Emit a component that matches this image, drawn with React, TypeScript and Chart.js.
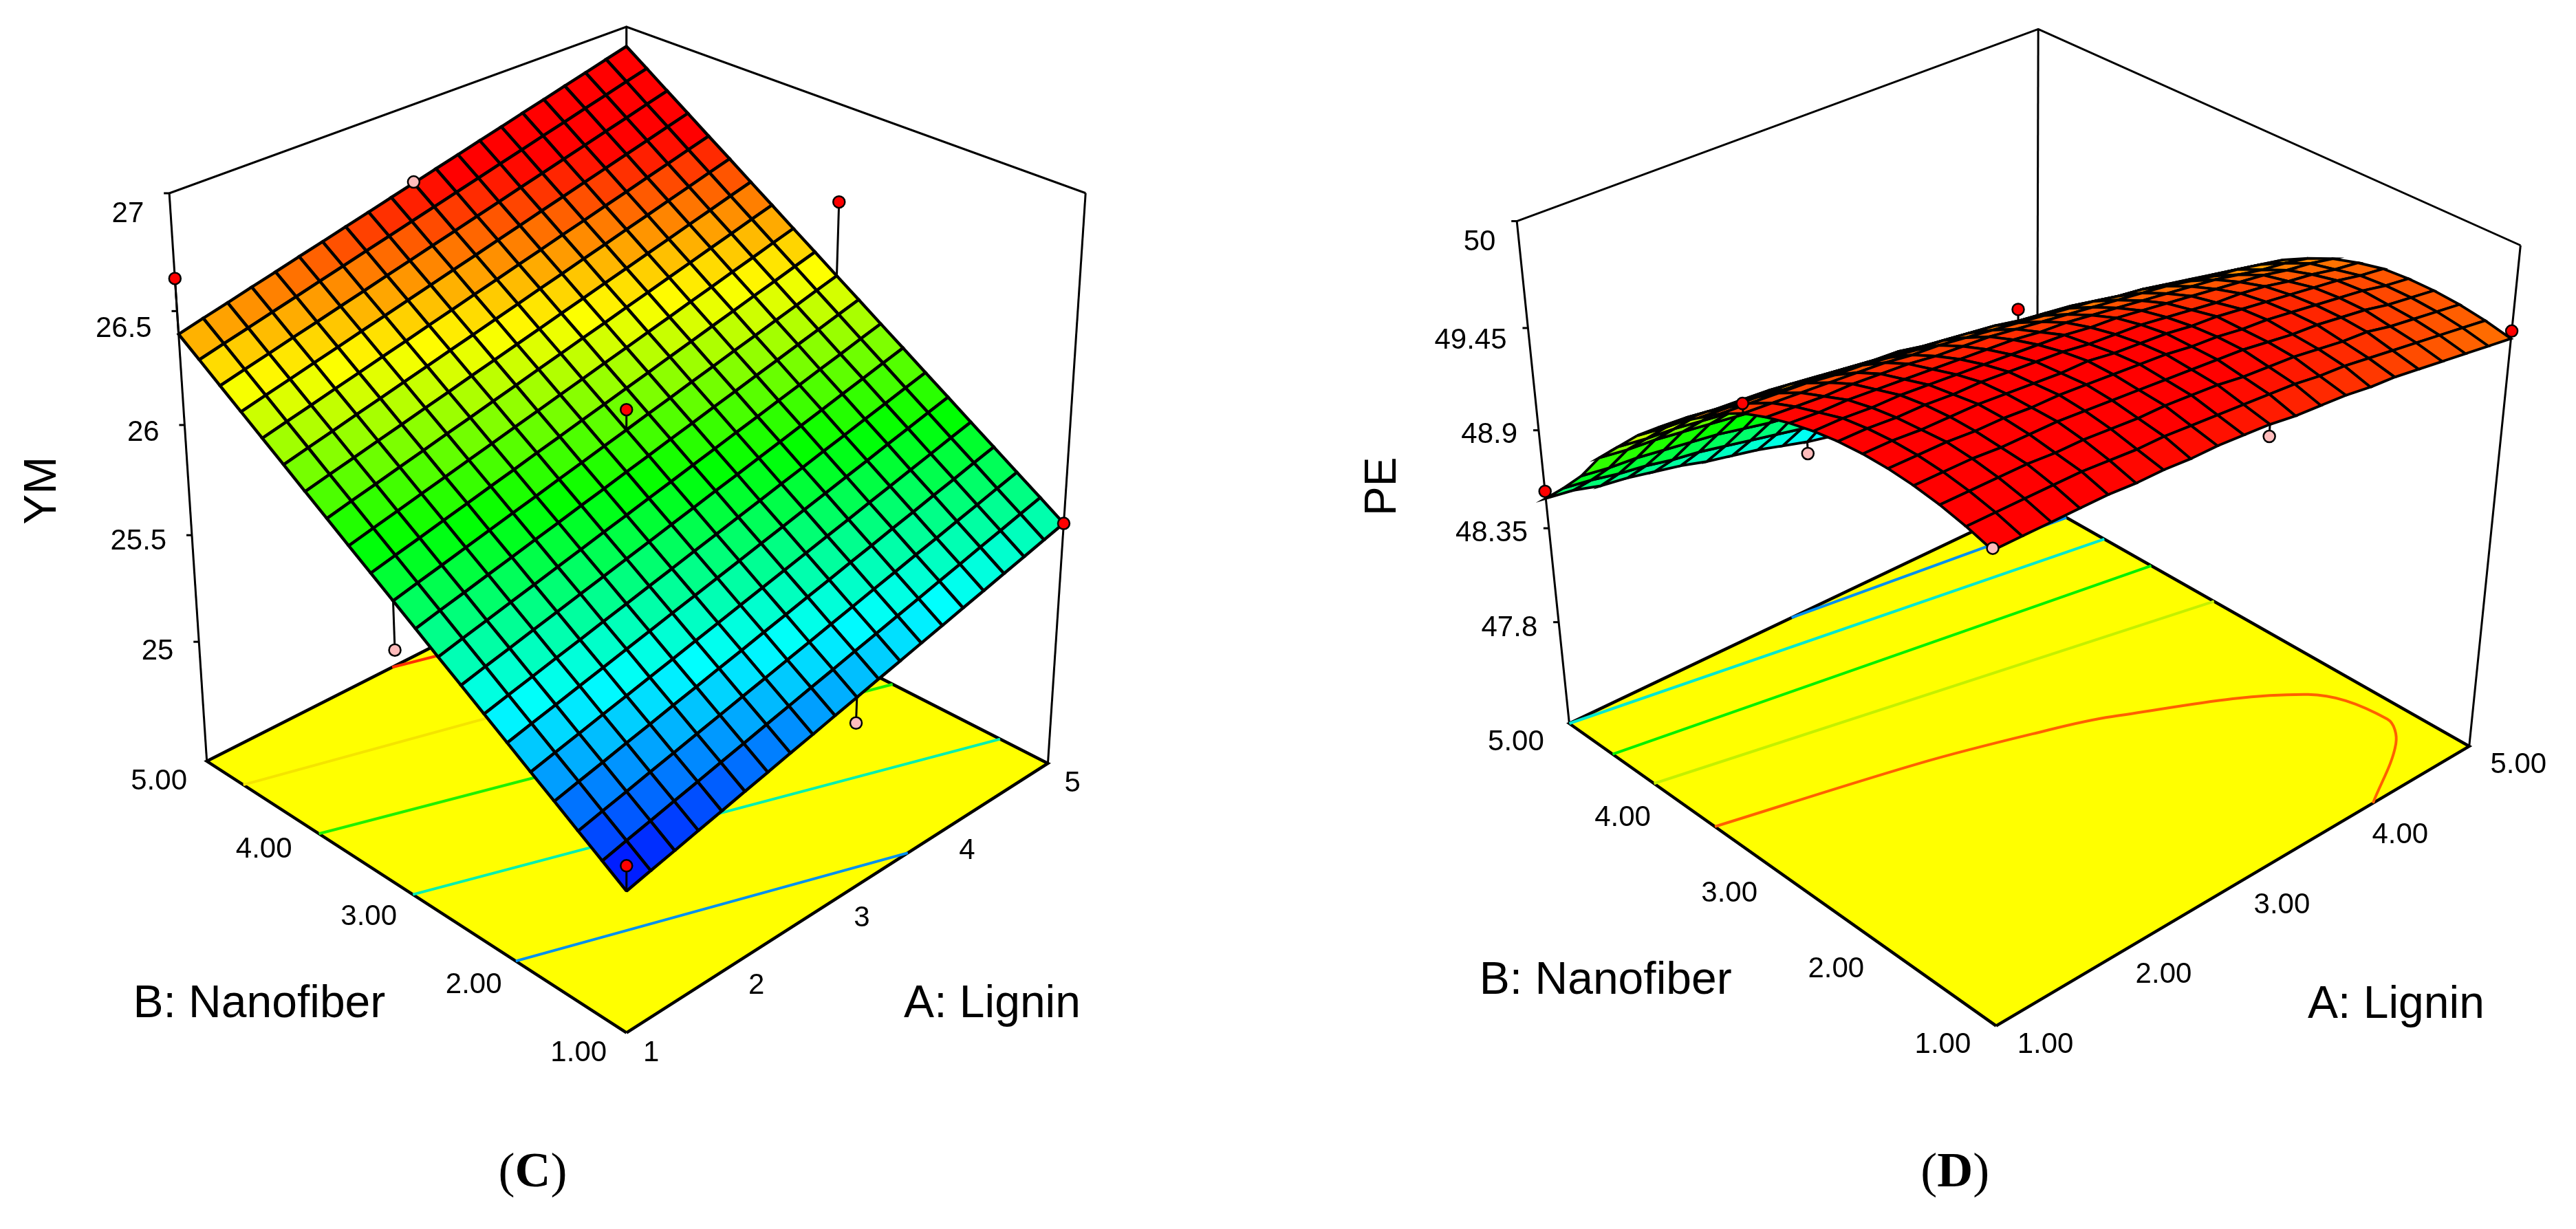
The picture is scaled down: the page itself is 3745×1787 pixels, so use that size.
import React, { useEffect, useRef } from "react";
import { Chart } from "chart.js/auto";

// ---------- DATA ----------
// The tables hold the surface nodes at every second mesh line of the reference; nothing is interpolated between them.
const levelsA = [1, 1.2, 1.4, 1.6, 1.8, 2, 2.2, 2.4, 2.6, 2.8, 3, 3.2, 3.4, 3.6, 3.8, 4, 4.2, 4.4, 4.6, 4.8, 5];
const levelsB = [1, 1.2, 1.4, 1.6, 1.8, 2, 2.2, 2.4, 2.6, 2.8, 3, 3.2, 3.4, 3.6, 3.8, 4, 4.2, 4.4, 4.6, 4.8, 5];

// rows = B level, columns = A level
const ymSurface = [
[25.050,25.076,25.101,25.127,25.152,25.178,25.203,25.229,25.254,25.280,25.305,25.331,25.356,25.382,25.407,25.433,25.458,25.484,25.509,25.535,25.560],
[25.118,25.144,25.169,25.195,25.220,25.246,25.271,25.297,25.322,25.348,25.373,25.399,25.424,25.450,25.475,25.501,25.526,25.552,25.577,25.603,25.628],
[25.185,25.211,25.236,25.262,25.287,25.313,25.338,25.364,25.389,25.415,25.440,25.466,25.491,25.517,25.542,25.568,25.593,25.619,25.644,25.670,25.695],
[25.253,25.279,25.304,25.330,25.355,25.381,25.406,25.432,25.457,25.483,25.508,25.534,25.559,25.585,25.610,25.636,25.661,25.687,25.712,25.738,25.763],
[25.320,25.346,25.371,25.397,25.422,25.448,25.473,25.499,25.524,25.550,25.575,25.601,25.626,25.652,25.677,25.703,25.728,25.754,25.779,25.805,25.830],
[25.388,25.414,25.439,25.465,25.490,25.516,25.541,25.567,25.592,25.618,25.643,25.669,25.694,25.720,25.745,25.771,25.796,25.822,25.847,25.873,25.898],
[25.455,25.481,25.506,25.532,25.557,25.583,25.608,25.634,25.659,25.685,25.710,25.736,25.761,25.787,25.812,25.838,25.863,25.889,25.914,25.940,25.965],
[25.523,25.549,25.574,25.600,25.625,25.651,25.676,25.702,25.727,25.753,25.778,25.804,25.829,25.855,25.880,25.906,25.931,25.957,25.982,26.008,26.033],
[25.590,25.616,25.641,25.667,25.692,25.718,25.743,25.769,25.794,25.820,25.845,25.871,25.896,25.922,25.947,25.973,25.998,26.024,26.049,26.075,26.100],
[25.658,25.684,25.709,25.735,25.760,25.786,25.811,25.837,25.862,25.888,25.913,25.939,25.964,25.990,26.015,26.041,26.066,26.092,26.117,26.143,26.168],
[25.725,25.751,25.776,25.802,25.827,25.853,25.878,25.904,25.929,25.955,25.980,26.006,26.031,26.057,26.082,26.108,26.133,26.159,26.184,26.210,26.235],
[25.793,25.819,25.844,25.870,25.895,25.921,25.946,25.972,25.997,26.023,26.048,26.074,26.099,26.125,26.150,26.176,26.201,26.227,26.252,26.278,26.303],
[25.860,25.886,25.911,25.937,25.962,25.988,26.013,26.039,26.064,26.090,26.115,26.141,26.166,26.192,26.217,26.243,26.268,26.294,26.319,26.345,26.370],
[25.928,25.954,25.979,26.005,26.030,26.056,26.081,26.107,26.132,26.158,26.183,26.209,26.234,26.260,26.285,26.311,26.336,26.362,26.387,26.413,26.438],
[25.995,26.021,26.046,26.072,26.097,26.123,26.148,26.174,26.199,26.225,26.250,26.276,26.301,26.327,26.352,26.378,26.403,26.429,26.454,26.480,26.505],
[26.063,26.089,26.114,26.140,26.165,26.191,26.216,26.242,26.267,26.293,26.318,26.344,26.369,26.395,26.420,26.446,26.471,26.497,26.522,26.548,26.573],
[26.130,26.156,26.181,26.207,26.232,26.258,26.283,26.309,26.334,26.360,26.385,26.411,26.436,26.462,26.487,26.513,26.538,26.564,26.589,26.615,26.640],
[26.198,26.224,26.249,26.275,26.300,26.326,26.351,26.377,26.402,26.428,26.453,26.479,26.504,26.530,26.555,26.581,26.606,26.632,26.657,26.683,26.708],
[26.265,26.291,26.316,26.342,26.367,26.393,26.418,26.444,26.469,26.495,26.520,26.546,26.571,26.597,26.622,26.648,26.673,26.699,26.724,26.750,26.775],
[26.333,26.359,26.384,26.410,26.435,26.461,26.486,26.512,26.537,26.563,26.588,26.614,26.639,26.665,26.690,26.716,26.741,26.767,26.792,26.818,26.843],
[26.400,26.426,26.451,26.477,26.502,26.528,26.553,26.579,26.604,26.630,26.655,26.681,26.706,26.732,26.757,26.783,26.808,26.834,26.859,26.885,26.910],
];

const peSurface = [
[49.73,49.73,49.73,49.73,49.73,49.72,49.72,49.71,49.71,49.70,49.69,49.67,49.66,49.65,49.63,49.62,49.60,49.58,49.56,49.54,49.52],
[49.77,49.77,49.77,49.77,49.77,49.76,49.75,49.75,49.74,49.73,49.72,49.71,49.70,49.68,49.67,49.65,49.63,49.61,49.59,49.57,49.55],
[49.80,49.80,49.80,49.80,49.79,49.79,49.78,49.77,49.77,49.76,49.75,49.73,49.72,49.71,49.69,49.67,49.66,49.63,49.61,49.59,49.57],
[49.82,49.82,49.82,49.81,49.81,49.81,49.80,49.79,49.78,49.77,49.76,49.75,49.74,49.72,49.70,49.69,49.67,49.65,49.62,49.60,49.58],
[49.83,49.83,49.83,49.82,49.82,49.81,49.81,49.80,49.79,49.78,49.77,49.75,49.74,49.72,49.71,49.69,49.67,49.65,49.63,49.60,49.58],
[49.83,49.83,49.82,49.82,49.82,49.81,49.80,49.79,49.79,49.77,49.76,49.75,49.73,49.72,49.70,49.68,49.66,49.64,49.62,49.59,49.57],
[49.82,49.82,49.81,49.81,49.80,49.80,49.79,49.78,49.77,49.75,49.74,49.73,49.71,49.69,49.67,49.66,49.64,49.61,49.59,49.56,49.54],
[49.80,49.80,49.79,49.79,49.78,49.77,49.76,49.75,49.74,49.73,49.71,49.70,49.68,49.66,49.64,49.62,49.60,49.58,49.55,49.53,49.50],
[49.77,49.76,49.76,49.75,49.74,49.73,49.72,49.71,49.70,49.68,49.67,49.65,49.63,49.61,49.59,49.57,49.55,49.52,49.49,49.47,49.44],
[49.73,49.72,49.71,49.71,49.70,49.69,49.67,49.66,49.65,49.63,49.61,49.59,49.57,49.55,49.53,49.51,49.48,49.45,49.43,49.40,49.37],
[49.68,49.67,49.66,49.65,49.64,49.63,49.61,49.60,49.58,49.56,49.54,49.52,49.50,49.48,49.45,49.43,49.40,49.37,49.34,49.31,49.28],
[49.61,49.60,49.59,49.58,49.56,49.55,49.53,49.51,49.50,49.48,49.46,49.43,49.41,49.39,49.36,49.33,49.31,49.27,49.24,49.21,49.18],
[49.52,49.51,49.50,49.48,49.47,49.45,49.44,49.42,49.40,49.38,49.36,49.33,49.31,49.28,49.26,49.23,49.20,49.17,49.14,49.10,49.07],
[49.43,49.42,49.40,49.39,49.38,49.36,49.34,49.32,49.31,49.28,49.26,49.24,49.21,49.19,49.16,49.13,49.10,49.07,49.04,49.00,48.97],
[49.33,49.32,49.30,49.29,49.28,49.26,49.24,49.22,49.20,49.18,49.16,49.13,49.11,49.08,49.05,49.02,48.99,48.96,48.93,48.89,48.86],
[49.22,49.20,49.19,49.17,49.16,49.14,49.12,49.10,49.08,49.05,49.03,49.00,48.97,48.94,48.91,48.88,48.85,48.82,48.78,48.75,48.71],
[49.09,49.07,49.06,49.04,49.02,49.00,48.98,48.96,48.94,48.91,48.89,48.86,48.83,48.80,48.77,48.74,48.71,48.67,48.63,48.60,48.56],
[48.96,48.94,48.93,48.91,48.89,48.87,48.85,48.82,48.80,48.77,48.74,48.71,48.68,48.65,48.61,48.57,48.54,48.50,48.47,48.43,48.39],
[48.79,48.77,48.76,48.74,48.72,48.70,48.67,48.64,48.62,48.59,48.56,48.53,48.50,48.47,48.43,48.39,48.36,48.32,48.29,48.25,48.21],
[48.65,48.63,48.60,48.58,48.55,48.53,48.50,48.47,48.44,48.41,48.39,48.36,48.32,48.28,48.25,48.21,48.18,48.14,48.10,48.06,48.02],
[48.52,48.50,48.46,48.44,48.41,48.38,48.34,48.31,48.28,48.24,48.20,48.17,48.13,48.09,48.05,48.01,47.97,47.93,47.89,47.84,47.80],
];

// design points: [A, B, response]
const ymPointsAbove = [[5, 3, 26.57], [1, 5, 26.64], [3, 3, 26.07], [5, 1, 25.56], [1, 1, 25.16]];
const ymPointsBelow = [[3, 5, 26.66], [1, 3, 25.51], [3, 1, 25.19]];
const pePointsAbove = [[3, 3, 49.61], [1, 5, 48.56], [1, 3, 49.73], [5, 1, 49.56]];
const pePointsBelow = [[3, 5, 48.13], [1, 1, 49.74], [3, 1, 49.63]];

// floor contours: [A, B]
const ymContours = [
  { color: "#0090f0", pts: [[1, 1.96], [3.56, 1]] },
  { color: "#00f0b0", pts: [[1, 2.91], [5, 1.41]] },
  { color: "#20f000", pts: [[1, 3.83], [5, 2.37]] },
  { color: "#f4e400", pts: [[1, 4.61], [5, 3.3]] },
  { color: "#ff3000", pts: [[2.66, 5], [5, 4.2]] },
];
const peContours = [
  { color: "#0090f0", pts: [[2.8, 5], [5, 4.7]] },
  { color: "#00e8d0", pts: [[1, 5], [5, 4.32]] },
  { color: "#00f000", pts: [[1, 4.55], [5, 3.86]] },
  { color: "#c4f000", pts: [[1, 4.13], [5, 3.26]] },
  { color: "#ff6000", pts: [[1, 3.53], [2.34, 3.19], [3.07, 2.95], [3.57, 2.75], [4.67, 2.08], [4.84, 1.55], [4.68, 1.33], [4.11, 1]] },
];

const ymTicks = [25, 25.5, 26, 26.5, 27];
const ymTickLabels = ["25", "25.5", "26", "26.5", "27"];
const peTicks = [47.8, 48.35, 48.9, 49.45, 50];
const peTickLabels = ["47.8", "48.35", "48.9", "49.45", "50"];
const factorTicks = [1, 2, 3, 4, 5];
const bLabels = ["1.00", "2.00", "3.00", "4.00", "5.00"];
const aLabelsC = ["1", "2", "3", "4", "5"];
const aLabelsD = ["1.00", "2.00", "3.00", "4.00", "5.00"];

// ---------- CAMERA / LAYOUT ----------
const W = 3745, H = 1787;
type Cam = { zf: number; zt: number; p: number[] };

function fit(zf: number, zt: number, c: number[][]): Cam {
  // c: eight corners [A,B,top(0|1),px,py]
  const rows: number[][] = [], rhs: number[] = [];
  for (const [a, b, t, px, py] of c) {
    const X = (a - 1) / 4, Y = (b - 1) / 4, Z = t, u = px / 1000, v = py / 1000;
    rows.push([X, Y, Z, 1, 0, 0, 0, 0, -u * X, -u * Y, -u * Z]); rhs.push(u);
    rows.push([0, 0, 0, 0, X, Y, Z, 1, -v * X, -v * Y, -v * Z]); rhs.push(v);
  }
  const n = 11;
  const M = Array.from({ length: n }, () => new Array(n + 1).fill(0));
  rows.forEach((r, k) => {
    for (let i = 0; i < n; i++) {
      for (let j = 0; j < n; j++) M[i][j] += r[i] * r[j];
      M[i][n] += r[i] * rhs[k];
    }
  });
  for (let i = 0; i < n; i++) {
    let m = i;
    for (let k = i + 1; k < n; k++) if (Math.abs(M[k][i]) > Math.abs(M[m][i])) m = k;
    [M[i], M[m]] = [M[m], M[i]];
    for (let k = 0; k < n; k++) {
      if (k === i) continue;
      const f = M[k][i] / M[i][i];
      for (let j = i; j <= n; j++) M[k][j] -= f * M[i][j];
    }
  }
  return { zf, zt, p: M.map((r, i) => r[n] / r[i]) };
}

const camC = fit(24.42, 27, [
  [1, 1, 0, 905, 1515], [5, 1, 0, 1521, 1108], [1, 5, 0, 292, 1105], [5, 5, 0, 905, 800],
  [1, 1, 1, 905, 580], [5, 1, 1, 1577, 281], [1, 5, 1, 236, 281], [5, 5, 1, 905, 22],
]);
const camD = fit(47.18, 50, [
  [1, 1, 0, 2906, 1501], [5, 1, 0, 3598, 1088], [1, 5, 0, 2284, 1053], [5, 5, 0, 2971, 725],
  [1, 1, 1, 2906, 709], [5, 1, 1, 3676, 353], [1, 5, 1, 2206, 319], [5, 5, 1, 2967, 30],
]);

function proj(c: Cam, a: number, b: number, z: number) {
  const X = (a - 1) / 4, Y = (b - 1) / 4, Z = (z - c.zf) / (c.zt - c.zf), p = c.p;
  const w = p[8] * X + p[9] * Y + p[10] * Z + 1;
  return {
    x: (1000 * (p[0] * X + p[1] * Y + p[2] * Z + p[3])) / w,
    y: (1000 * (p[4] * X + p[5] * Y + p[6] * Z + p[7])) / w,
  };
}

function rainbow(t: number) {
  t = Math.max(0, Math.min(1, t));
  const s = t * 4, f = s - Math.floor(s), k = Math.floor(s);
  let r = 0, g = 0, b = 0;
  if (k === 0) { g = f; b = 1; }
  else if (k === 1) { g = 1; b = 1 - f; }
  else if (k === 2) { r = f; g = 1; }
  else { r = 1; g = k >= 4 ? 0 : 1 - f; }
  return `rgb(${Math.round(r * 255)},${Math.round(g * 255)},${Math.round(b * 255)})`;
}

const lineDs = (data: any[], color: string, width: number, extra: any = {}) => ({
  data, borderColor: color, borderWidth: width, pointRadius: 0, pointHoverRadius: 0, fill: false, tension: 0, borderJoinStyle: "round", ...extra,
});

function buildPanel(cam: Cam, table: number[][], above: number[][], below: number[][], contours: any[], ticks: number[], zMin: number, zMax: number, meshW: number) {
  const { zf, zt } = cam;
  const surf = (a: number, b: number) => table[levelsB.indexOf(b)][levelsA.indexOf(a)];
  const top: any[] = [], low: any[] = [], cells: any[] = [];

  const stem = (pt: number[]) => lineDs([proj(cam, pt[0], pt[1], pt[2]), proj(cam, pt[0], pt[1], surf(pt[0], pt[1]))], "#000", 3);
  const dots = (pts: number[][], fill: string) => ({
    data: pts.map((q) => proj(cam, q[0], q[1], q[2])), showLine: false, pointRadius: 8.5, pointHoverRadius: 8.5,
    pointBackgroundColor: fill, pointBorderColor: "#000", pointBorderWidth: 2.5,
  });
  top.push(dots(above, "#ff0000"), dots(below, "#ffbcbc"));
  above.forEach((q) => top.push(stem(q)));
  below.forEach((q) => low.push(stem(q)));

  for (let i = 0; i < levelsA.length - 1; i++) {
    for (let j = 0; j < levelsB.length - 1; j++) {
      const z00 = table[j][i], z10 = table[j][i + 1], z01 = table[j + 1][i], z11 = table[j + 1][i + 1];
      const a0 = levelsA[i], a1 = levelsA[i + 1], b0 = levelsB[j], b1 = levelsB[j + 1];
      const t = ((z00 + z10 + z01 + z11) / 4 - zMin) / (zMax - zMin);
      const p0 = proj(cam, a0, b0, z00);
      cells.push(lineDs([p0, proj(cam, a1, b0, z10), proj(cam, a1, b1, z11), proj(cam, a0, b1, z01), p0], "#000", meshW, {
        fill: "shape", backgroundColor: rainbow(t), borderJoinStyle: "miter",
      }));
    }
  }

  const cont = contours.map((c) => lineDs(c.pts.map((q: number[]) => proj(cam, q[0], q[1], zf)), c.color, 4, { tension: c.pts.length > 2 ? 0.35 : 0 }));
  const F = proj(cam, 1, 1, zf), R = proj(cam, 5, 1, zf), B = proj(cam, 5, 5, zf), L = proj(cam, 1, 5, zf);
  const floor = lineDs([F, R, B, L, F], "#000", 4.5, { fill: "shape", backgroundColor: "#ffff00", borderJoinStyle: "miter" });
  const TL = proj(cam, 1, 5, zt), TB = proj(cam, 5, 5, zt), TR = proj(cam, 5, 1, zt);
  const box = [
    lineDs([TL, TB, TR], "#000", 3), lineDs([TL, L], "#000", 3), lineDs([TR, R], "#000", 3), lineDs([TB, B], "#000", 3),
  ];
  const tickMarks = ticks.map((z) => {
    const q = proj(cam, 1, 5, z);
    return lineDs([q, { x: q.x - 8, y: q.y }], "#000", 3);
  });
  const aTicks = factorTicks.slice(1, 4).map((a) => {
    const q = proj(cam, a, 1, zf);
    return lineDs([q, { x: q.x + 2, y: q.y - 14 }], "#000", 4);
  });
  return [...top, ...cells, ...low, ...cont, floor, ...aTicks, ...tickMarks, ...box];
}

const FONT = '"Liberation Sans", Arial, sans-serif';

const textPlugin = {
  id: "panelText",
  afterDraw(chart: any) {
    const { ctx, scales } = chart;
    const put = (s: string, x: number, y: number, size: number, align: CanvasTextAlign = "center", rot = 0) => {
      ctx.save();
      ctx.translate(scales.x.getPixelForValue(x), scales.y.getPixelForValue(y));
      ctx.rotate(rot);
      ctx.font = `${size}px ${FONT}`;
      ctx.fillStyle = "#000";
      ctx.textAlign = align;
      ctx.textBaseline = "middle";
      ctx.fillText(s, 0, 0);
      ctx.restore();
    };
    const panel = (cam: Cam, ticks: number[], tl: string[], al: string[], zdx: number, zdy: number[], dxB: number, dxA: number, dyF: number) => {
      ticks.forEach((z, i) => {
        const q = proj(cam, 1, 5, z);
        put(tl[i], q.x + zdx, q.y + zdy[i], 42, "right");
      });
      // the reference spaces its factor ticks evenly along the floor edges
      const F = proj(cam, 1, 1, cam.zf), L = proj(cam, 1, 5, cam.zf), R = proj(cam, 5, 1, cam.zf);
      factorTicks.forEach((v, i) => {
        const t = (v - 1) / 4;
        put(bLabels[i], F.x + (L.x - F.x) * t + dxB, F.y + (L.y - F.y) * t + dyF, 42);
        put(al[i], F.x + (R.x - F.x) * t + dxA, F.y + (R.y - F.y) * t + dyF, 42);
      });
    };
    panel(camC, ymTicks, ymTickLabels, aLabelsC, -37, [14, 9, 12, 26, 31], -70, 36, 30);
    panel(camD, peTicks, peTickLabels, aLabelsD, -31, [9, 7, 7, 19, 31], -78, 72, 28);

    put("YM", 52, 711, 66, "center", -Math.PI / 2);
    put("PE", 2012, 705, 64, "center", -Math.PI / 2);
    put("B: Nanofiber", 368, 1468, 66);
    put("A: Lignin", 1440, 1468, 66);
    put("B: Nanofiber", 2337, 1433, 66);
    put("A: Lignin", 3493, 1469, 66);

    const caption = (letter: string, cx: number, cy: number) => {
      ctx.save();
      ctx.fillStyle = "#000";
      ctx.textBaseline = "middle";
      ctx.textAlign = "left";
      const reg = '72px "Liberation Serif", serif', bold = 'bold 72px "Liberation Serif", serif';
      ctx.font = reg;
      const wp = ctx.measureText("(").width, wq = ctx.measureText(")").width;
      ctx.font = bold;
      const wl = ctx.measureText(letter).width;
      let x = scales.x.getPixelForValue(cx) - (wp + wl + wq) / 2;
      const y = scales.y.getPixelForValue(cy);
      ctx.font = reg; ctx.fillText("(", x, y); x += wp;
      ctx.font = bold; ctx.fillText(letter, x, y); x += wl;
      ctx.font = reg; ctx.fillText(")", x, y);
      ctx.restore();
    };
    caption("C", 768, 1717);
    caption("D", 2848, 1717);
  },
};

export default function App() {
  const ref = useRef<HTMLCanvasElement>(null);
  useEffect(() => {
    document.body.style.margin = "0";
    document.body.style.background = "#fff";
    const datasets = [
      ...buildPanel(camC, ymSurface, ymPointsAbove, ymPointsBelow, ymContours, ymTicks, 25.05, 26.66, 4.4),
      ...buildPanel(camD, peSurface, pePointsAbove, pePointsBelow, peContours, peTicks, 47.8, 49.75, 3.8),
    ];
    const chart = new Chart(ref.current as HTMLCanvasElement, {
      type: "line",
      data: { datasets } as any,
      plugins: [textPlugin],
      options: {
        animation: false,
        responsive: false,
        parsing: false,
        events: [],
        layout: { padding: 0 },
        plugins: { legend: { display: false }, tooltip: { enabled: false }, title: { display: false } },
        scales: {
          x: { type: "linear", display: false, min: 0, max: W },
          y: { type: "linear", display: false, min: 0, max: H, reverse: true },
        },
      } as any,
    });
    return () => chart.destroy();
  }, []);
  return <canvas ref={ref} width={W} height={H} style={{ display: "block", width: W, height: H, background: "#fff" }} />;
}
